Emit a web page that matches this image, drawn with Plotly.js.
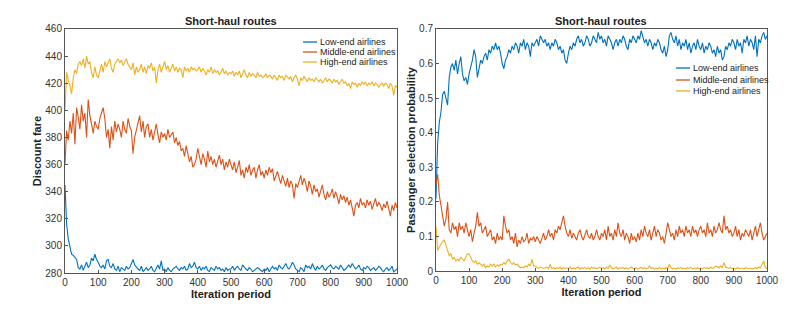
<!DOCTYPE html>
<html><head><meta charset="utf-8">
<script src="https://cdn.plot.ly/plotly-3.0.1.min.js"></script>
<style>html,body{margin:0;padding:0;background:#fff}#c{width:805px;height:311px}</style>
</head><body><div id="c"></div>
<script>
var seriesNames = ["Low-end airlines", "Middle-end airlines", "High-end airlines"];
var plotTitle = "Short-haul routes";
var xTitle = "Iteration period";
var yTitleLeft = "Discount fare";
var yTitleRight = "Passenger selection probability";
var iterStep = 5;

// Discount fare, sampled every 5 iterations (0..1000)
var fareLow = [
345,316,305,298,294,293,291,290,284,283,286,282,285,288,284,286,291,289,294,290,
288,285,284,286,283,289,290,285,284,287,283,282,285,281,284,283,282,285,283,284,
287,290,286,284,283,282,285,281,283,284,282,283,285,282,281,284,286,283,289,282,
283,281,284,282,281,283,284,285,283,282,284,283,285,282,283,287,284,285,288,284,
283,285,282,284,283,285,282,281,284,283,282,285,283,284,282,283,281,284,282,283,
283,285,282,284,285,283,282,286,284,283,282,284,283,281,282,283,284,283,282,281,
283,282,284,281,283,285,283,284,282,286,284,283,285,287,284,283,285,288,286,283,
282,281,284,283,281,286,284,285,283,287,284,282,285,283,284,286,283,282,284,285,
286,284,283,285,284,283,286,284,282,283,285,286,284,287,285,283,284,286,283,282,
284,283,285,284,282,283,284,282,283,285,284,282,281,283,284,282,283,285,281,282,
283];
var fareMid = [
360,385,378,392,383,398,375,402,395,386,404,392,398,380,408,396,390,383,392,388,
386,394,398,402,394,380,386,372,388,378,392,384,390,386,380,392,386,383,394,388,
385,368,380,386,390,396,384,392,380,388,390,380,386,378,384,390,382,376,384,380,
383,378,386,380,382,384,376,380,374,377,370,372,366,374,368,362,366,358,360,364,
372,366,360,368,364,358,370,362,366,360,364,358,362,367,360,364,356,362,358,364,
360,356,362,354,358,363,352,356,350,358,354,360,352,356,358,350,356,360,352,355,
350,356,352,358,354,357,348,352,355,350,346,352,347,344,350,343,348,345,335,346,
343,348,352,345,350,346,340,348,344,338,345,340,342,336,341,345,338,334,340,336,
338,342,335,340,336,331,338,334,337,332,336,330,334,327,322,330,332,328,335,330,
332,328,334,330,333,327,331,335,329,332,330,326,331,328,333,327,322,330,326,332,
328];
var fareHigh = [
400,428,422,418,412,424,430,427,434,436,433,438,431,440,434,436,428,424,432,426,
424,430,434,428,436,432,435,438,431,428,434,436,438,435,437,433,436,438,434,432,
430,435,426,432,428,430,434,428,432,427,433,431,435,429,432,420,430,434,428,432,
436,430,433,428,431,434,429,432,428,431,430,424,432,429,431,428,432,430,431,429,
430,432,428,431,429,426,430,428,432,427,430,428,429,426,428,431,427,429,426,428,
427,429,425,428,426,429,424,427,430,426,424,428,425,427,426,424,428,425,426,424,
425,427,424,426,425,423,426,424,422,426,424,425,422,426,424,423,425,421,424,426,
423,418,424,422,425,423,421,424,422,423,421,424,422,421,423,420,422,424,421,423,
422,420,423,421,422,419,421,423,420,421,418,420,416,421,419,420,417,420,418,421,
419,421,418,420,419,421,418,420,419,417,419,420,418,420,419,416,420,418,411,418,
417];

// Passenger selection probability, sampled every 5 iterations (0..1000)
var probLow = [
0.21,0.37,0.43,0.46,0.51,0.52,0.50,0.48,0.56,0.59,0.60,0.58,0.61,0.57,0.60,0.62,0.57,0.55,0.56,0.54,
0.57,0.59,0.61,0.64,0.62,0.56,0.59,0.61,0.60,0.62,0.63,0.61,0.64,0.63,0.65,0.64,0.66,0.64,0.65,0.63,
0.60,0.585,0.61,0.62,0.64,0.63,0.65,0.64,0.66,0.65,0.63,0.66,0.65,0.67,0.64,0.66,0.65,0.62,0.66,0.65,
0.66,0.67,0.65,0.68,0.67,0.66,0.67,0.65,0.66,0.64,0.66,0.65,0.67,0.66,0.64,0.65,0.63,0.64,0.61,0.60,
0.63,0.65,0.64,0.66,0.65,0.67,0.68,0.66,0.67,0.65,0.66,0.68,0.67,0.65,0.66,0.68,0.67,0.66,0.69,0.67,
0.68,0.66,0.67,0.65,0.68,0.67,0.66,0.64,0.66,0.67,0.65,0.67,0.66,0.68,0.67,0.65,0.64,0.67,0.66,0.68,
0.67,0.66,0.68,0.67,0.695,0.68,0.66,0.67,0.65,0.67,0.66,0.64,0.66,0.65,0.67,0.66,0.64,0.63,0.65,0.62,
0.64,0.68,0.69,0.67,0.66,0.68,0.65,0.67,0.64,0.66,0.65,0.67,0.64,0.66,0.63,0.65,0.66,0.64,0.67,0.65,
0.64,0.66,0.63,0.65,0.64,0.66,0.65,0.63,0.64,0.62,0.65,0.63,0.64,0.61,0.62,0.65,0.64,0.66,0.65,0.67,
0.66,0.64,0.67,0.65,0.66,0.63,0.67,0.66,0.68,0.65,0.67,0.66,0.64,0.68,0.62,0.67,0.66,0.68,0.69,0.67,
0.68];
var probMid = [
0.25,0.28,0.22,0.19,0.16,0.13,0.15,0.20,0.12,0.11,0.14,0.12,0.13,0.10,0.14,0.12,0.13,0.11,0.14,0.12,
0.10,0.12,0.085,0.11,0.13,0.17,0.13,0.14,0.11,0.12,0.13,0.10,0.11,0.12,0.09,0.10,0.08,0.11,0.09,0.10,
0.09,0.16,0.13,0.11,0.12,0.09,0.10,0.08,0.11,0.07,0.09,0.08,0.10,0.085,0.09,0.11,0.08,0.095,0.09,0.10,
0.085,0.10,0.09,0.08,0.095,0.11,0.09,0.10,0.12,0.10,0.11,0.09,0.12,0.11,0.13,0.12,0.14,0.16,0.13,0.11,
0.10,0.12,0.095,0.11,0.10,0.09,0.11,0.12,0.10,0.09,0.105,0.12,0.10,0.095,0.11,0.09,0.10,0.12,0.10,0.09,
0.11,0.10,0.12,0.09,0.13,0.10,0.11,0.09,0.12,0.10,0.14,0.11,0.10,0.12,0.09,0.11,0.10,0.08,0.11,0.09,
0.10,0.085,0.11,0.09,0.12,0.10,0.13,0.11,0.10,0.12,0.09,0.11,0.13,0.10,0.12,0.11,0.09,0.10,0.08,0.11,
0.14,0.12,0.10,0.11,0.09,0.12,0.10,0.13,0.11,0.12,0.10,0.13,0.11,0.12,0.10,0.13,0.11,0.12,0.10,0.12,
0.13,0.11,0.12,0.10,0.14,0.11,0.12,0.10,0.13,0.11,0.12,0.14,0.12,0.11,0.16,0.12,0.13,0.11,0.12,0.10,
0.11,0.13,0.10,0.12,0.09,0.11,0.10,0.12,0.11,0.10,0.12,0.09,0.11,0.13,0.10,0.12,0.14,0.11,0.09,0.10,
0.11];
var probHigh = [
0.13,0.06,0.07,0.08,0.085,0.09,0.075,0.06,0.045,0.05,0.035,0.04,0.03,0.035,0.03,0.04,0.035,0.03,0.04,0.05,
0.05,0.04,0.03,0.025,0.03,0.02,0.025,0.02,0.015,0.02,0.01,0.015,0.012,0.02,0.015,0.02,0.012,0.018,0.015,0.02,
0.018,0.025,0.02,0.03,0.035,0.025,0.02,0.025,0.018,0.02,0.015,0.01,0.012,0.01,0.015,0.012,0.02,0.015,0.035,0.015,
0.015,0.01,0.008,0.012,0.01,0.008,0.01,0.012,0.007,0.02,0.008,0.01,0.006,0.01,0.008,0.012,0.006,0.01,0.008,0.01,
0.008,0.012,0.006,0.01,0.007,0.009,0.012,0.006,0.01,0.008,0.011,0.007,0.01,0.006,0.012,0.008,0.01,0.007,0.009,0.012,
0.008,0.01,0.006,0.012,0.008,0.018,0.01,0.007,0.009,0.012,0.006,0.01,0.008,0.011,0.007,0.01,0.006,0.009,0.012,0.008,
0.007,0.01,0.006,0.009,0.011,0.007,0.01,0.006,0.008,0.015,0.008,0.01,0.006,0.009,0.007,0.011,0.006,0.009,0.007,0.01,
0.008,0.02,0.01,0.007,0.009,0.006,0.01,0.008,0.011,0.007,0.009,0.006,0.01,0.008,0.011,0.007,0.009,0.006,0.01,0.008,
0.009,0.006,0.011,0.008,0.01,0.007,0.012,0.008,0.01,0.015,0.012,0.01,0.015,0.01,0.025,0.012,0.01,0.008,0.011,0.007,
0.009,0.006,0.01,0.008,0.007,0.009,0.006,0.01,0.008,0.007,0.009,0.006,0.008,0.01,0.007,0.012,0.009,0.02,0.03,0.01,
0.008];

var colors = ["#0072BD", "#D95319", "#EDB120"];
function iters(arr){ return arr.map(function(_, i){ return i * iterStep; }); }

var traces = [];
[fareLow, fareMid, fareHigh].forEach(function(s, k){
  traces.push({x: iters(s), y: s, type: "scatter", mode: "lines", name: seriesNames[k],
    line: {color: colors[k], width: 1.1}, xaxis: "x", yaxis: "y", showlegend: false});
});
[probLow, probMid, probHigh].forEach(function(s, k){
  traces.push({x: iters(s), y: s, type: "scatter", mode: "lines", name: seriesNames[k],
    line: {color: colors[k], width: 1.1}, xaxis: "x2", yaxis: "y2", showlegend: false});
});

var fam = "Liberation Sans, Arial, sans-serif";
var tickFont = {family: fam, size: 10, color: "#333"};
var titleFont = {family: fam, size: 11, color: "#222", weight: "bold"};
function axisBase(){
  return {showline: true, mirror: true, linecolor: "#555", linewidth: 1, ticks: "inside", ticklen: 3,
    tickcolor: "#555", showgrid: false, zeroline: false, tickfont: tickFont};
}
var xa = axisBase(); xa.domain = [0.0807, 0.4932]; xa.range = [0, 1000]; xa.dtick = 100; xa.anchor = "y";
xa.title = {text: xTitle, font: titleFont, standoff: 3};
var ya = axisBase(); ya.domain = [0.122, 0.907]; ya.range = [280, 460]; ya.dtick = 20; ya.anchor = "x";
ya.title = {text: yTitleLeft, font: titleFont, standoff: 1};
var xa2 = axisBase(); xa2.domain = [0.5416, 0.9528]; xa2.range = [0, 1000]; xa2.dtick = 100; xa2.anchor = "y2";
xa2.title = {text: xTitle, font: titleFont, standoff: 3};
var ya2 = axisBase(); ya2.domain = [0.128, 0.907]; ya2.range = [0, 0.7]; ya2.dtick = 0.1; ya2.anchor = "x2";
ya2.title = {text: yTitleRight, font: titleFont, standoff: 1};

// Compact legends (line sample + label), placed like the original figure
var legFont = {family: fam, size: 9, color: "#222"};
var legendSpecs = [
  {x0: 303, rows: [42, 52, 62]},
  {x0: 676, rows: [68, 80, 91]}
];
var shapes = [], annotations = [];
legendSpecs.forEach(function(L){
  L.rows.forEach(function(py, k){
    shapes.push({type: "line", xref: "paper", yref: "paper",
      x0: L.x0 / 805, x1: (L.x0 + 14) / 805, y0: 1 - py / 311, y1: 1 - py / 311,
      line: {color: colors[k], width: 1.3}});
    annotations.push({text: seriesNames[k], xref: "paper", yref: "paper",
      x: (L.x0 + 15) / 805, y: 1 - py / 311, xanchor: "left", yanchor: "middle",
      showarrow: false, font: legFont});
  });
});
annotations.push({text: plotTitle, xref: "paper", yref: "paper", x: (0.0807 + 0.4932) / 2, y: 1 - 21 / 311,
  xanchor: "center", yanchor: "middle", showarrow: false, font: titleFont});
annotations.push({text: plotTitle, xref: "paper", yref: "paper", x: (0.5416 + 0.9528) / 2, y: 1 - 21 / 311,
  xanchor: "center", yanchor: "middle", showarrow: false, font: titleFont});

var layout = {
  width: 805, height: 311, margin: {l: 0, r: 0, t: 0, b: 0},
  paper_bgcolor: "#fff", plot_bgcolor: "#fff", showlegend: false,
  xaxis: xa, yaxis: ya, xaxis2: xa2, yaxis2: ya2,
  shapes: shapes, annotations: annotations
};
Plotly.newPlot("c", traces, layout, {staticPlot: true, displayModeBar: false});
</script>
</body></html>
